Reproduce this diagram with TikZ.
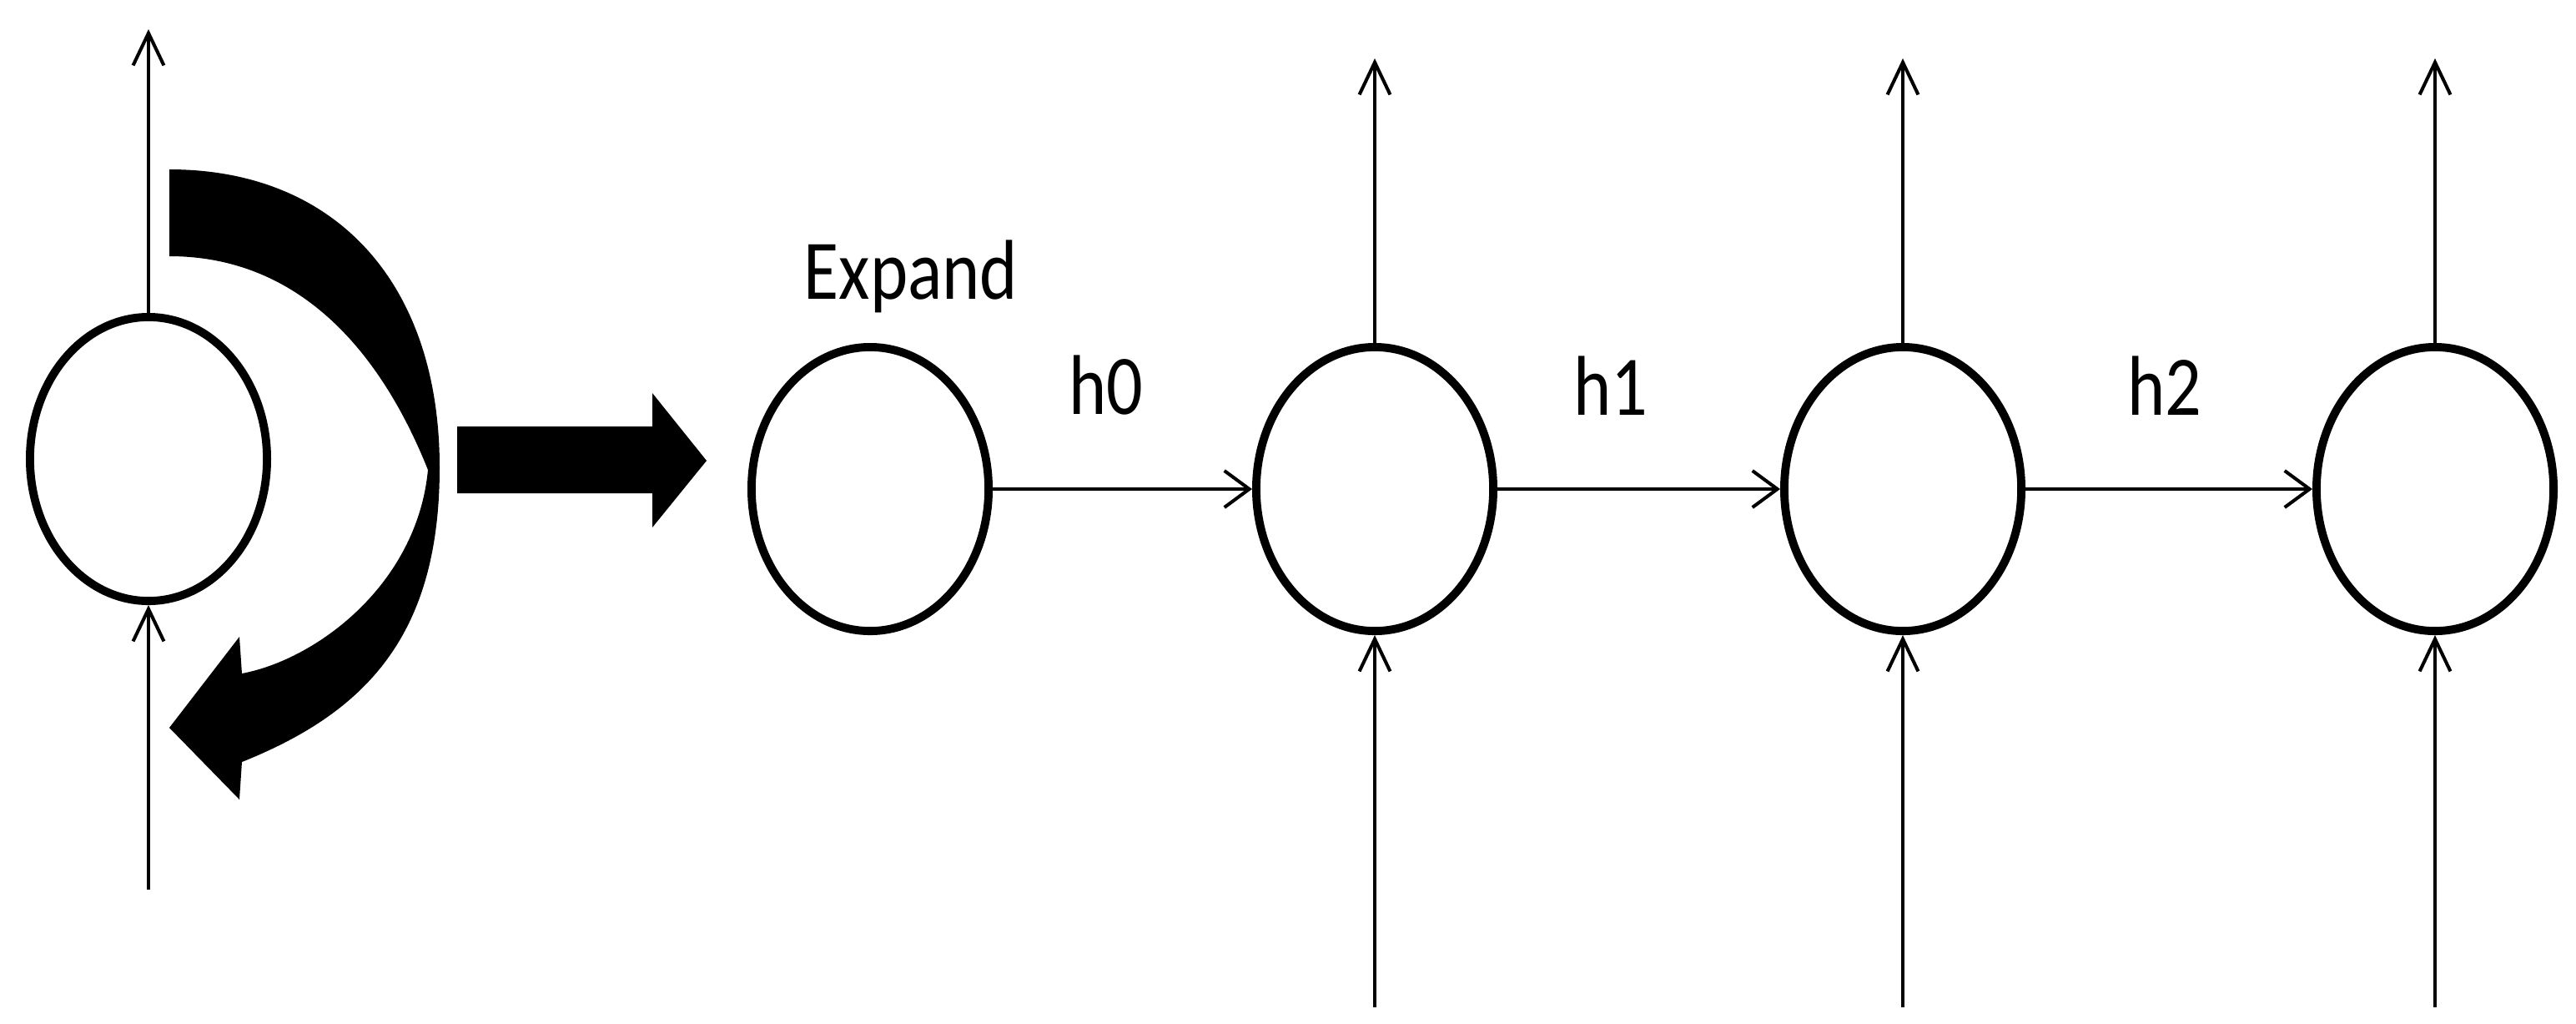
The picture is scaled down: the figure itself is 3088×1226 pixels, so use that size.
\documentclass[tikz,border=0pt]{standalone}
\usepackage{fontspec}
\setmainfont{Carlito}
\usepackage{graphicx}
\usetikzlibrary{arrows.meta,shapes.geometric}
\begin{document}
\begin{tikzpicture}[x=0.01cm,y=-0.01cm,
  cell/.style={ellipse, draw, line width=2.8pt, minimum width=2.84cm, minimum height=3.40cm, inner sep=0pt},
  vflow/.style={line width=1.15pt, -{Straight Barb[length=11pt,width=10.5pt]}},
  hflow/.style={line width=1.15pt, -{Straight Barb[length=8.5pt,width=12.5pt]}},
  lbl/.style={anchor=base, inner sep=0pt, font=\fontsize{24.5}{29}\selectfont}]
\useasboundingbox (0,0) rectangle (3088,1226);

% cells
\node[cell] (L) at (178,550) {};
\node[cell] (E) at (1043,586) {};
\node[cell] (A) at (1648,586) {};
\node[cell] (B) at (2281,586) {};
\node[cell] (C) at (2919,586) {};

% free ends
\coordinate (Lt) at (178,35);
\coordinate (Lb) at (178,1066);
\coordinate (At) at (1648,70);
\coordinate (Ab) at (1648,1207);
\coordinate (Bt) at (2281,70);
\coordinate (Bb) at (2281,1207);
\coordinate (Ct) at (2919,70);
\coordinate (Cb) at (2919,1207);

% vertical connectors
\draw[vflow] (L.north) -- (Lt);
\draw[vflow] (Lb) -- (L.south);
\draw[vflow] (A.north) -- (At);
\draw[vflow] (Ab) -- (A.south);
\draw[vflow] (B.north) -- (Bt);
\draw[vflow] (Bb) -- (B.south);
\draw[vflow] (C.north) -- (Ct);
\draw[vflow] (Cb) -- (C.south);

% horizontal connectors
\draw[hflow] (E.east) -- (A.west);
\draw[hflow] (A.east) -- (B.west);
\draw[hflow] (B.east) -- (C.west);

% labels
\node[lbl] (tE) at (1092,358) {\scalebox{1}[1.18]{Expand}};
\node[lbl] (t0) at (1326,496) {\scalebox{1}[1.18]{h0}};
\node[lbl] (t1) at (1931,497) {\scalebox{1}[1.18]{h1}};
\node[lbl] (t2) at (2595,497) {\scalebox{1}[1.18]{h2}};

% big right block arrow
\fill (548,511) -- (782,511) -- (782,471) -- (847,552) -- (782,632)
  -- (782,591) -- (548,591) -- cycle;

% curved block arrow (recurrence)
\fill (203,203) .. controls (403,203) and (527,340) .. (527,560)
  .. controls (527,760) and (440,853) .. (290,913)
  -- (287,958) -- (203,872) -- (287,763) -- (290,807)
  .. controls (380,790) and (500,700) .. (513,563)
  .. controls (453,413) and (353,307) .. (203,307) -- cycle;
\end{tikzpicture}
\end{document}
